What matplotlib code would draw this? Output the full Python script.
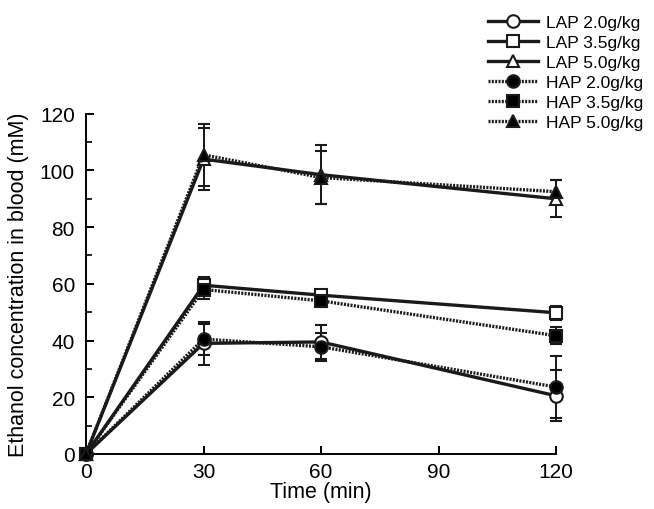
import numpy as np
import matplotlib.pyplot as plt

plt.rcParams['font.family'] = ['Liberation Sans', 'DejaVu Sans']

time = [0, 30, 60, 120]

# mean blood ethanol (mM) and error bars
lap_20 = [0, 39.0, 39.5, 20.5]
lap_20_err = [0, 7.5, 6.0, 9.0]
lap_35 = [0, 59.5, 56.0, 49.8]
lap_35_err = [0, 3.0, 1.5, 2.5]
lap_50 = [0, 104.0, 98.5, 90.0]
lap_50_err = [0, 11.0, 10.5, 6.5]
hap_20 = [0, 40.5, 37.8, 23.6]
hap_20_err = [0, 5.5, 5.0, 11.0]
hap_35 = [0, 58.0, 54.0, 41.7]
hap_35_err = [0, 3.5, 2.0, 3.0]
hap_50 = [0, 105.5, 97.5, 92.5]
hap_50_err = [0, 11.0, 9.5, 4.0]

dotted = (0, (0.6, 0.4))
series = [
    ('LAP 2.0g/kg', lap_20, lap_20_err, 'o', 'white', '-'),
    ('LAP 3.5g/kg', lap_35, lap_35_err, 's', 'white', '-'),
    ('LAP 5.0g/kg', lap_50, lap_50_err, '^', 'white', '-'),
    ('HAP 2.0g/kg', hap_20, hap_20_err, 'o', 'black', dotted),
    ('HAP 3.5g/kg', hap_35, hap_35_err, 's', 'black', dotted),
    ('HAP 5.0g/kg', hap_50, hap_50_err, '^', 'black', dotted),
]

fig = plt.figure(figsize=(6.54, 5.1), dpi=100)
ax = fig.add_axes([0.1315, 0.108, 0.7187, 0.667])

handles = []
for label, y, err, mk, fc, ls in series:
    eb = ax.errorbar(time, y, yerr=err, color='#1a1a1a', lw=2.4, ls=ls,
                     marker=mk, ms=9, mfc=fc, mec='#1a1a1a', mew=1.5,
                     capsize=4.5, elinewidth=1.4, capthick=1.4,
                     label=label, clip_on=False, zorder=3)
    eb.lines[0].set_clip_on(False)
    handles.append(eb.lines[0])  # legend shows line + marker only

ax.set_xlim(0, 120)
ax.set_ylim(0, 120)
ax.set_xticks([0, 30, 60, 90, 120])
ax.set_yticks([0, 20, 40, 60, 80, 100, 120])
ax.set_yticks(np.arange(10, 120, 20), minor=True)
ax.spines['top'].set_visible(False)
ax.spines['right'].set_visible(False)
ax.spines['left'].set_linewidth(1.4)
ax.spines['bottom'].set_linewidth(1.4)
ax.tick_params(direction='in', length=6, width=1.4, labelsize=15)
ax.tick_params(axis='y', pad=8)
ax.tick_params(axis='x', pad=6)
ax.tick_params(which='minor', direction='in', length=4, width=1.2)

ax.set_xlabel('Time (min)', fontsize=15.5, labelpad=0)
ax.set_ylabel('Ethanol concentration in blood (mM)', fontsize=15.5, labelpad=8)

fig.legend(handles=handles, labels=[s[0] for s in series], loc='upper right',
           bbox_to_anchor=(0.997, 0.985), frameon=False, fontsize=12.5,
           handlelength=2.9, handletextpad=0.45, labelspacing=0.27, borderpad=0)

fig.savefig('out.png', dpi=100)
